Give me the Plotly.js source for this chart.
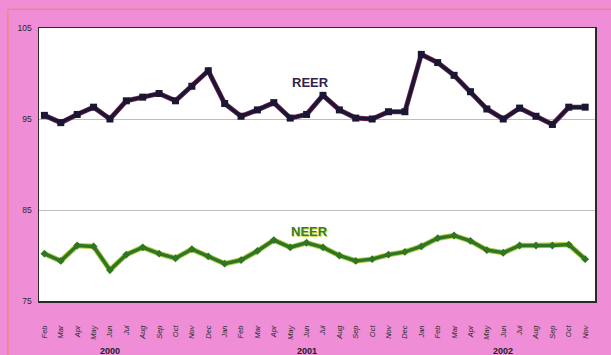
<!DOCTYPE html>
<html>
<head>
<meta charset="utf-8">
<script src="https://cdn.plot.ly/plotly-3.0.1.min.js"></script>
<style>
  html, body { margin: 0; padding: 0; background: #ef8dd6; }
  #chart { width: 611px; height: 355px; }
</style>
</head>
<body>
<div id="chart"></div>
<script>
// Monthly effective exchange rate indices, Feb 2000 – Nov 2002
const months = ['Feb','Mar','Apr','May','Jun','Jul','Aug','Sep','Oct','Nov','Dec',
                'Jan','Feb','Mar','Apr','May','Jun','Jul','Aug','Sep','Oct','Nov','Dec',
                'Jan','Feb','Mar','Apr','May','Jun','Jul','Aug','Sep','Oct','Nov'];
const years = ['2000','2001','2002'];
const reer = [95.4, 94.6, 95.5, 96.3, 95.0, 97.0, 97.4, 97.8, 97.0, 98.6, 100.3,
              96.7, 95.3, 96.0, 96.8, 95.1, 95.5, 97.6, 96.0, 95.1, 95.0, 95.8, 95.8,
              102.1, 101.2, 99.8, 98.0, 96.1, 95.0, 96.2, 95.3, 94.4, 96.3, 96.3];
const neer = [80.2, 79.4, 81.1, 81.0, 78.4, 80.1, 80.9, 80.2, 79.7, 80.7, 79.9,
              79.1, 79.5, 80.5, 81.7, 80.9, 81.4, 80.9, 80.0, 79.4, 79.6, 80.1, 80.4,
              81.0, 81.9, 82.2, 81.6, 80.6, 80.3, 81.1, 81.1, 81.1, 81.2, 79.6];
const yTicks = [75, 85, 95, 105];

const idx = months.map((_, i) => i);

// year label sits under the June tick of each year
const yearAt = [];
let y = 0;
months.forEach((m, i) => {
  if (m === 'Jan' && i > 0) y++;
  if (m === 'Jun') yearAt[y] = i;
});

const traces = [
  { x: idx, y: neer, mode: 'lines', hoverinfo: 'skip',
    line: { color: '#b9cc4c', width: 5.5 } },
  { x: idx, y: neer, mode: 'lines+markers', name: 'NEER',
    line: { color: '#2d7623', width: 3.5 },
    marker: { symbol: 'diamond', size: 6, color: '#2d7623' } },
  { x: idx, y: reer, mode: 'lines', hoverinfo: 'skip',
    line: { color: '#7a2a55', width: 5 } },
  { x: idx, y: reer, mode: 'lines+markers', name: 'REER',
    line: { color: '#1b1633', width: 3.5 },
    marker: { symbol: 'square', size: 7, color: '#1b1633' } }
];

const annotations = [
  { x: 16.25, y: 99.0, xref: 'x', yref: 'y', text: '<b>REER</b>', showarrow: false,
    font: { family: 'Arial, Liberation Sans, sans-serif', size: 13, color: '#33224f' } },
  { x: 16.2, y: 82.6, xref: 'x', yref: 'y', text: '<b>NEER</b>', showarrow: false,
    font: { family: 'Arial, Liberation Sans, sans-serif', size: 13, color: '#3a7d22',
            shadow: '1px 1px 0px #d6e04a' } }
].concat(years.map((yr, i) => ({
  x: yearAt[i], y: 0, xref: 'x', yref: 'paper', yanchor: 'top', yshift: -43,
  text: '<b>' + yr + '</b>', showarrow: false,
  font: { family: 'Arial, Liberation Sans, sans-serif', size: 9, color: '#222' }
})));

const shapes = [
  // orange outer frame lines
  { type: 'line', xref: 'paper', yref: 'paper', x0: -0.056, x1: 1.03, y0: 1.068, y1: 1.068,
    line: { color: '#f08a5a', width: 1.2 } },
  { type: 'line', xref: 'paper', yref: 'paper', x0: -0.056, x1: -0.056, y0: 1.068, y1: -0.2,
    line: { color: '#f08a5a', width: 1.2 } }
];

const layout = {
  width: 611, height: 355,
  margin: { l: 39, r: 16, t: 28, b: 54 },
  paper_bgcolor: '#ef8dd6',
  plot_bgcolor: '#ffffff',
  showlegend: false,
  font: { family: 'Arial, Liberation Sans, sans-serif', color: '#333' },
  xaxis: {
    range: [-0.33, 33.6], tickvals: idx, ticktext: months, tickangle: -90,
    tickfont: { size: 7.5, color: '#2a2a2a', style: 'italic' },
    ticklabelstandoff: 20,
    showgrid: false, zeroline: false, fixedrange: true,
    showline: true, mirror: true, linecolor: '#2a2a2a', linewidth: 1.5
  },
  yaxis: {
    range: [75, 105], tickvals: yTicks, ticktext: yTicks.map(String),
    tickfont: { size: 8.5, color: '#2a2a2a' },
    showgrid: true, gridcolor: '#bdbdbd', gridwidth: 1, zeroline: false,
    showline: true, mirror: true, linecolor: '#2a2a2a', linewidth: 1.5,
    ticklabelstandoff: 4, fixedrange: true
  },
  annotations: annotations,
  shapes: shapes
};

Plotly.newPlot('chart', traces, layout, { displayModeBar: false, staticPlot: true });
</script>
</body>
</html>
